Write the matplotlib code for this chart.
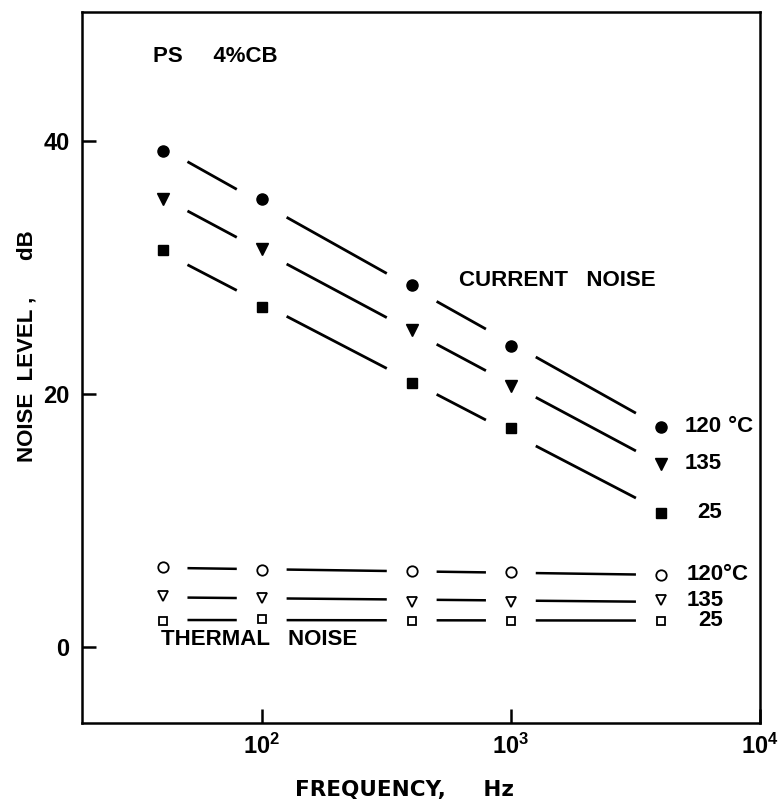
import numpy as np
import matplotlib
matplotlib.use("Agg")
import matplotlib.pyplot as plt
from matplotlib.ticker import FixedLocator, FuncFormatter, NullLocator

plt.rcParams["font.family"] = ["Liberation Sans", "DejaVu Sans"]
plt.rcParams["font.weight"] = "bold"
plt.rcParams["axes.labelweight"] = "bold"
plt.rcParams["mathtext.fontset"] = "custom"
plt.rcParams["mathtext.rm"] = "Liberation Sans:bold"
plt.rcParams["mathtext.bf"] = "Liberation Sans:bold"

# frequencies, Hz
freq = [40, 100, 400, 1000, 4000]

# current noise, dB  (120 C, 135 C, 25 C)
cur_120 = [39.2, 35.4, 28.6, 23.8, 17.4]
cur_135 = [35.4, 31.5, 25.1, 20.6, 14.5]
cur_25 = [31.4, 26.9, 20.9, 17.3, 10.6]

# thermal noise, dB
th_120 = [6.3, 6.1, 6.0, 5.9, 5.7]
th_135 = [4.0, 3.9, 3.6, 3.6, 3.7]
th_25 = [2.1, 2.2, 2.1, 2.1, 2.1]

temp_labels = ["120", "135", "25"]
xticks = [1e2, 1e3, 1e4]
yticks = [0, 20, 40]

fig = plt.figure(figsize=(7.82, 7.99), dpi=100)
ax = fig.add_axes([82 / 782, 1 - 723 / 799, 678 / 782, 711 / 799])
ax.set_xscale("log")
ax.set_xlim(19, 1e4)
ax.set_ylim(-6, 50.2)


def fit_segments(x, y, gap, lw):
    # straight fit in log(f), drawn only in the gaps between markers
    lx = np.log10(x)
    k, b = np.polyfit(lx, y, 1)
    for a, c in zip(lx[:-1], lx[1:]):
        xs = np.array([a + gap, c - gap])
        ax.plot(10 ** xs, k * xs + b, color="black", lw=lw, solid_capstyle="butt")


cur = [cur_120, cur_135, cur_25]
th = [th_120, th_135, th_25]
filled = [("o", 8), ("v", 8.5), ("s", 7)]
hollow = [("o", 7.5), ("v", 7), ("s", 6)]

for y, (m, ms) in zip(cur, filled):
    fit_segments(freq, y, 0.1, 2.0)
    ax.plot(freq, y, ls="none", marker=m, ms=ms, color="black")

for y, (m, ms) in zip(th, hollow):
    fit_segments(freq, y, 0.1, 1.8)
    ax.plot(freq, y, ls="none", marker=m, ms=ms, mfc="white", mec="black", mew=1.3)

for y, lab in zip(cur, temp_labels):
    ax.annotate(lab, (freq[-1], y[-1]), xytext=(44, 0), textcoords="offset points",
                ha="right", va="center", fontsize=16)
ax.annotate(" °C", (freq[-1], cur_120[-1]), xytext=(44, 0), textcoords="offset points",
            ha="left", va="center", fontsize=16)

for y, lab in zip(th, temp_labels):
    ax.annotate(lab, (freq[-1], y[-1]), xytext=(45, 0), textcoords="offset points",
                ha="right", va="center", fontsize=16)
ax.annotate("°C", (freq[-1], th_120[-1]), xytext=(45, 0), textcoords="offset points",
            ha="left", va="center", fontsize=16)

ax.text(0.105, 0.937, "PS     4%CB", transform=ax.transAxes, fontsize=16, va="center")
ax.text(0.556, 0.623, "CURRENT   NOISE", transform=ax.transAxes, fontsize=16, va="center")
ax.text(0.1165, 0.117, "THERMAL   NOISE", transform=ax.transAxes, fontsize=16, va="center")

ax.xaxis.set_major_locator(FixedLocator(xticks))
ax.xaxis.set_minor_locator(NullLocator())
ax.xaxis.set_major_formatter(FuncFormatter(lambda v, p: r"$\mathbf{10^{%d}}$" % round(np.log10(v))))
ax.set_yticks(yticks)

ax.tick_params(direction="in", length=10, width=1.8, labelsize=17, pad=9)
ax.tick_params(axis="x", pad=8)
for s in ax.spines.values():
    s.set_linewidth(1.8)

ax.set_xlabel("FREQUENCY,     Hz", fontsize=15.5, family="DejaVu Sans", fontweight="bold")
ax.xaxis.set_label_coords(0.476, -0.08)
ax.set_ylabel("NOISE  LEVEL ,      dB", fontsize=16, fontweight="bold")
ax.yaxis.set_label_coords(-0.065, 0.53)

fig.savefig("out.png", dpi=100)
